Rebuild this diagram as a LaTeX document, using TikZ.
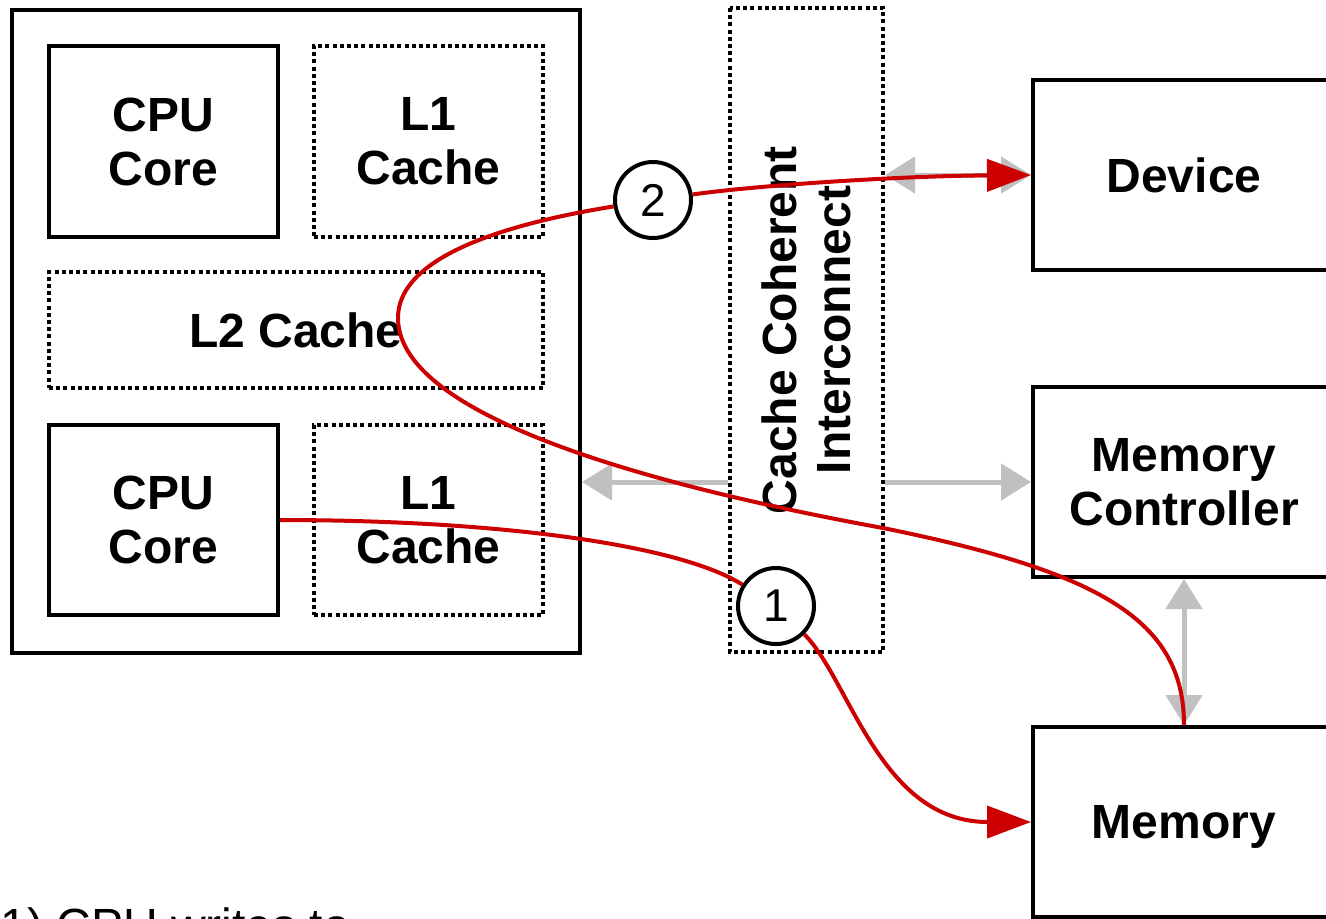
\documentclass[tikz,border=0pt]{standalone}
\usepackage{fontspec}
\setmainfont{Liberation Sans}
\usetikzlibrary{arrows.meta,positioning}
\definecolor{dred}{RGB}{204,0,0}
\definecolor{lgray}{RGB}{192,192,192}

\begin{document}
\begin{tikzpicture}
  [x=0.5pt,y=-0.5pt,
   every node/.style={font=\bfseries\fontsize{24}{27}\selectfont, align=center},
   solidbox/.style={draw, line width=2pt, inner sep=0pt},
   dotbox/.style={draw, line width=2pt, dash pattern=on 2pt off 1.6pt, inner sep=0pt},
   grayarrow/.style={draw=lgray, line width=2.5pt, -{Triangle[length=15pt,width=18pt]}},
   redline/.style={draw=dred, line width=2pt},
   redarrow/.style={redline, -{Triangle[length=22pt,width=16pt]}},
   num/.style={circle, draw, line width=2pt, fill=white, minimum size=38pt,
     inner sep=0pt, font=\fontsize{23}{24}\selectfont}]

  \useasboundingbox (0,0) rectangle (1326,918);
  \clip (0,0) rectangle (1326,918);

  % processor side
  \node [solidbox, minimum width=284pt, minimum height=321.5pt] (cpu) at (296,331.5) {};
  \node [solidbox, minimum width=114.5pt, minimum height=95.5pt] (coreA) at (163.5,141.5) {CPU\\Core};
  \node [dotbox, minimum width=114.5pt, minimum height=95.5pt] (loneA) at (428.5,141.5) {L1\\Cache};
  \node [dotbox, minimum width=247pt, minimum height=58pt] (ltwo) at (296,330) {L2 Cache};
  \node [solidbox, minimum width=114.5pt, minimum height=95pt] (coreB) at (163.5,520) {CPU\\Core};
  \node [dotbox, minimum width=114.5pt, minimum height=95pt] (loneB) at (428.5,520) {L1\\Cache};

  % interconnect
  \node [dotbox, rotate=90, minimum width=322pt, minimum height=76.5pt] (ccix) at (806.5,330)
    {Cache Coherent\\Interconnect};

  % right side
  \node [solidbox, minimum width=151pt, minimum height=95pt] (dev) at (1184,175) {Device};
  \node [solidbox, minimum width=151pt, minimum height=95pt] (mc) at (1184,482) {Memory\\Controller};
  \node [solidbox, minimum width=151pt, minimum height=95pt, text depth=0pt] (mem) at (1184,822) {Memory};

  % gray links
  \draw [grayarrow, {Triangle[length=15pt,width=18pt]}-{Triangle[length=15pt,width=18pt]}]
    (ccix.south |- dev) -- (dev.west);
  \draw [grayarrow] (ccix.north |- mc) -- (cpu.east |- mc);
  \draw [grayarrow] (ccix.south |- mc) -- (mc.west);
  \draw [grayarrow, {Triangle[length=15pt,width=18pt]}-{Triangle[length=15pt,width=18pt]}]
    (mc.south) -- (mem.north);

  % steps
  \node [num] (one) at (776,606) {1};
  \node [num] (two) at (653,200) {2};

  \draw [redline] (coreB.east) .. controls (500,520) and (680,545) .. (one);
  \draw [redarrow] (one) .. controls (850,680) and (880,822) .. (mem.west);

  \draw [redline] (mem.north) .. controls (1184,620) and (1100,572) .. (883,528)
    .. controls (620,480) and (398,410) .. (398,318)
    .. controls (398,250) and (530,220) .. (two);
  \draw [redarrow] (two) .. controls (760,185) and (900,176) .. (dev.west);

  \node [font=\fontsize{24}{27}\selectfont, anchor=base west, inner sep=0pt] (note) at (0,942)
    {1) CPU writes to};

\end{tikzpicture}
\end{document}
